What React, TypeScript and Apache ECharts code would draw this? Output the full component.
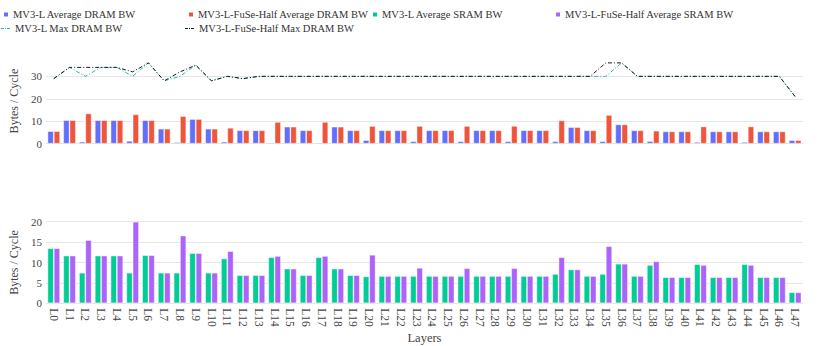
import React, { useEffect, useRef } from "react";
import * as echarts from "echarts";

const layers = [
  "L0", "L1", "L2", "L3", "L4", "L5", "L6", "L7", "L8", "L9", "L10", "L11",
  "L12", "L13", "L14", "L15", "L16", "L17", "L18", "L19", "L20", "L21", "L22", "L23",
  "L24", "L25", "L26", "L27", "L28", "L29", "L30", "L31", "L32", "L33", "L34", "L35",
  "L36", "L37", "L38", "L39", "L40", "L41", "L42", "L43", "L44", "L45", "L46", "L47",
];

const mv3lAvgDram = [
  5.6, 10.5, 0.9, 10.5, 10.5, 1.3, 10.5, 6.7, 0.7, 11.0, 6.7, 0.9,
  6.0, 6.0, 0.5, 7.6, 6.0, 0.5, 7.6, 6.0, 1.6, 6.0, 6.0, 1.1,
  6.0, 6.0, 1.1, 6.0, 6.0, 1.1, 6.0, 6.0, 1.1, 7.4, 6.0, 1.1,
  8.6, 6.0, 1.2, 5.5, 5.5, 0.8, 5.5, 5.5, 0.8, 5.5, 5.5, 1.6,
];
const fuseAvgDram = [
  5.6, 10.5, 13.5, 10.5, 10.5, 13.1, 10.5, 6.7, 12.3, 11.0, 6.7, 7.1,
  6.0, 6.0, 9.7, 7.6, 6.0, 9.7, 7.6, 6.0, 7.9, 6.0, 6.0, 7.9,
  6.0, 6.0, 7.9, 6.0, 6.0, 7.9, 6.0, 6.0, 10.4, 7.4, 6.0, 12.8,
  8.6, 6.0, 5.8, 5.5, 5.5, 7.7, 5.5, 5.5, 7.7, 5.5, 5.5, 1.6,
];
const mv3lMaxDram = [
  29, 34, 30, 34, 34, 30, 36, 28, 30, 35, 28, 30,
  29, 30, 30, 30, 30, 30, 30, 30, 30, 30, 30, 30,
  30, 30, 30, 30, 30, 30, 30, 30, 30, 30, 30, 30,
  36, 30, 30, 30, 30, 30, 30, 30, 30, 30, 30, 21,
];
const fuseMaxDram = [
  29, 34, 34, 34, 34, 32, 36, 28, 32, 35, 28, 30,
  29, 30, 30, 30, 30, 30, 30, 30, 30, 30, 30, 30,
  30, 30, 30, 30, 30, 30, 30, 30, 30, 30, 30, 36,
  36, 30, 30, 30, 30, 30, 30, 30, 30, 30, 30, 21,
];
const mv3lAvgSram = [
  13.5, 11.7, 7.5, 11.7, 11.7, 7.5, 11.8, 7.5, 7.5, 12.3, 7.5, 11.0,
  6.9, 6.9, 11.3, 8.5, 6.9, 11.3, 8.5, 6.9, 6.6, 6.7, 6.7, 6.7,
  6.7, 6.7, 6.7, 6.7, 6.7, 6.7, 6.7, 6.7, 7.2, 8.3, 6.7, 7.2,
  9.7, 6.7, 9.4, 6.4, 6.4, 9.6, 6.4, 6.4, 9.6, 6.4, 6.4, 2.7,
];
const fuseAvgSram = [
  13.5, 11.7, 15.5, 11.7, 11.7, 20.0, 11.8, 7.5, 16.6, 12.3, 7.5, 12.8,
  6.9, 6.9, 11.6, 8.5, 6.9, 11.6, 8.5, 6.9, 11.9, 6.7, 6.7, 8.7,
  6.7, 6.7, 8.6, 6.7, 6.7, 8.6, 6.7, 6.7, 11.3, 8.3, 6.7, 14.0,
  9.7, 6.7, 10.3, 6.4, 6.4, 9.4, 6.4, 6.4, 9.4, 6.4, 6.4, 2.7,
];

const NAMES = {
  mv3lAvgDram: "MV3-L Average DRAM BW",
  fuseAvgDram: "MV3-L-FuSe-Half Average DRAM BW",
  mv3lAvgSram: "MV3-L Average SRAM BW",
  fuseAvgSram: "MV3-L-FuSe-Half Average SRAM BW",
  mv3lMaxDram: "MV3-L Max DRAM BW",
  fuseMaxDram: "MV3-L-FuSe-Half Max DRAM BW",
};

const FONT = "'Liberation Serif', 'Times New Roman', serif";
const TEXT = "#444";
const GRID_LINE = "#e6e6e6";
const DASH_DOT_ICON = "path://M0,0H3V1H0Z M4,0H5V1H4Z M6,0H9V1H6Z";

export default function App() {
  const ref = useRef<HTMLDivElement>(null);

  useEffect(() => {
    document.body.style.margin = "0";
    if (!ref.current) return;
    const chart = echarts.init(ref.current, undefined, { renderer: "svg" });

    const legendText = { fontFamily: FONT, fontSize: 10.5, color: "#333" };
    const mkLegend = (name: string, left: number, top: number, line: boolean) => ({
      data: [name],
      left,
      top,
      padding: 0,
      icon: line ? DASH_DOT_ICON : "rect",
      itemWidth: line ? 9 : 4,
      itemHeight: line ? 1 : 4,
      itemStyle: { borderWidth: 0 },
      textStyle: legendText,
      selectedMode: false,
    });

    const barStyle = (color: string) => ({
      color,
      borderColor: "rgba(255,255,255,0.55)",
      borderWidth: 0.8,
    });

    const option: any = {
      animation: false,
      backgroundColor: "#fff",
      textStyle: { fontFamily: FONT },
      legend: [
        mkLegend(NAMES.mv3lAvgDram, 4, 9, false),
        mkLegend(NAMES.fuseAvgDram, 189, 9, false),
        mkLegend(NAMES.mv3lAvgSram, 373, 9, false),
        mkLegend(NAMES.fuseAvgSram, 556, 9, false),
        mkLegend(NAMES.mv3lMaxDram, 1, 23, true),
        mkLegend(NAMES.fuseMaxDram, 185, 23, true),
      ],
      grid: [
        { left: 31, right: 27, top: 58.4, height: 85.3 },
        { left: 31, right: 27, top: 221.7, height: 81.6 },
      ],
      xAxis: [
        {
          type: "category",
          gridIndex: 0,
          data: layers,
          axisLine: { show: false },
          axisTick: { show: false },
          axisLabel: { show: false },
        },
        {
          type: "category",
          gridIndex: 1,
          data: layers,
          axisLine: { show: false },
          axisTick: { show: false },
          axisLabel: {
            rotate: -90,
            interval: 0,
            margin: 5,
            fontFamily: FONT,
            fontSize: 11.5,
            color: TEXT,
          },
          name: "Layers",
          nameLocation: "middle",
          nameGap: 28,
          nameTextStyle: { fontFamily: FONT, fontSize: 12.5, color: TEXT },
        },
      ],
      yAxis: [
        {
          type: "value",
          gridIndex: 0,
          min: 0,
          max: 38,
          interval: 10,
          axisLine: { show: false },
          axisTick: { show: false },
          axisLabel: {
            margin: 4,
            fontFamily: FONT,
            fontSize: 11,
            color: TEXT,
            showMaxLabel: false,
          },
          splitLine: { lineStyle: { color: GRID_LINE, width: 1 }, showMaxLine: false },
          name: "Bytes / Cycle",
          nameLocation: "middle",
          nameGap: 16,
          nameTextStyle: { fontFamily: FONT, fontSize: 12, color: TEXT },
        },
        {
          type: "value",
          gridIndex: 1,
          min: 0,
          max: 20,
          interval: 5,
          axisLine: { show: false },
          axisTick: { show: false },
          axisLabel: { margin: 4, fontFamily: FONT, fontSize: 11, color: TEXT },
          splitLine: { lineStyle: { color: GRID_LINE, width: 1 } },
          name: "Bytes / Cycle",
          nameLocation: "middle",
          nameGap: 16,
          nameTextStyle: { fontFamily: FONT, fontSize: 12, color: TEXT },
        },
      ],
      series: [
        {
          name: NAMES.mv3lAvgDram,
          type: "bar",
          xAxisIndex: 0,
          yAxisIndex: 0,
          data: mv3lAvgDram,
          barGap: "0%",
          barCategoryGap: "20%",
          itemStyle: barStyle("#636efa"),
        },
        {
          name: NAMES.fuseAvgDram,
          type: "bar",
          xAxisIndex: 0,
          yAxisIndex: 0,
          data: fuseAvgDram,
          barGap: "0%",
          barCategoryGap: "20%",
          itemStyle: barStyle("#ef553b"),
        },
        {
          name: NAMES.mv3lAvgSram,
          type: "bar",
          xAxisIndex: 1,
          yAxisIndex: 1,
          data: mv3lAvgSram,
          barGap: "0%",
          barCategoryGap: "20%",
          itemStyle: barStyle("#00cc96"),
        },
        {
          name: NAMES.fuseAvgSram,
          type: "bar",
          xAxisIndex: 1,
          yAxisIndex: 1,
          data: fuseAvgSram,
          barGap: "0%",
          barCategoryGap: "20%",
          itemStyle: barStyle("#ab63fa"),
        },
        {
          name: NAMES.mv3lMaxDram,
          type: "line",
          xAxisIndex: 0,
          yAxisIndex: 0,
          data: mv3lMaxDram,
          symbol: "none",
          color: "#2bb3b3",
          lineStyle: { color: "#2bb3b3", width: 1, type: [4, 2, 1, 2] },
          z: 3,
        },
        {
          name: NAMES.fuseMaxDram,
          type: "line",
          xAxisIndex: 0,
          yAxisIndex: 0,
          data: fuseMaxDram,
          symbol: "none",
          color: "#1a1a1a",
          lineStyle: { color: "#1a1a1a", width: 1, type: [4, 2, 1, 2] },
          z: 4,
        },
      ],
    };

    chart.setOption(option);
    return () => chart.dispose();
  }, []);

  return <div ref={ref} style={{ width: 830, height: 346 }} />;
}
